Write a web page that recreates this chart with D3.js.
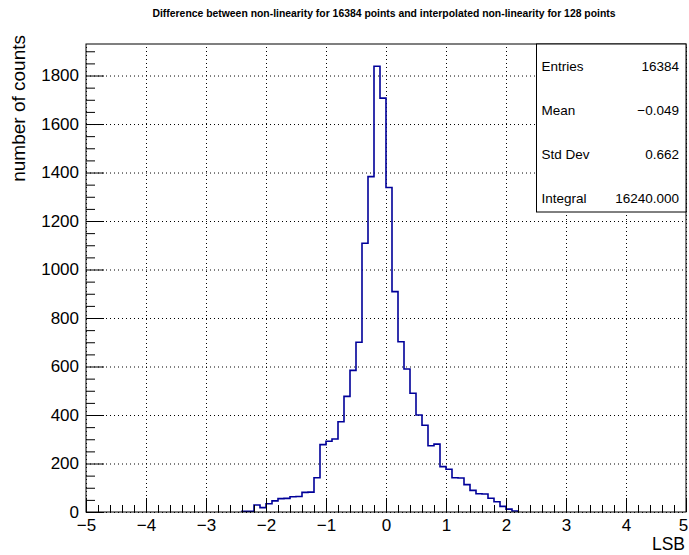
<!DOCTYPE html>
<html>
<head>
<meta charset="utf-8">
<script src="https://cdn.jsdelivr.net/npm/d3@7"></script>
<style>
  html, body { margin: 0; padding: 0; background: #fff; }
  svg { display: block; font-family: "Liberation Sans", Arial, Helvetica, sans-serif; }
</style>
</head>
<body>
<svg id="chart" width="689" height="555"></svg>
<script>
// Histogram contents: low edge of each 0.1-wide bin and its count
const binLowEdges = [
  -2.4, -2.3, -2.2, -2.1, -2.0, -1.9, -1.8, -1.7, -1.6, -1.5,
  -1.4, -1.3, -1.2, -1.1, -1.0, -0.9, -0.8, -0.7, -0.6, -0.5,
  -0.4, -0.3, -0.2, -0.1, 0.0, 0.1, 0.2, 0.3, 0.4, 0.5,
  0.6, 0.7, 0.8, 0.9, 1.0, 1.1, 1.2, 1.3, 1.4, 1.5,
  1.6, 1.7, 1.8, 1.9, 2.0, 2.1
];
const counts = [
  3, 3, 29, 18, 34, 46, 55, 56, 63, 64,
  81, 82, 141, 278, 292, 301, 372, 477, 584, 700,
  1108, 1383, 1838, 1707, 1338, 909, 702, 590, 490, 400,
  358, 273, 280, 187, 176, 141, 140, 113, 89, 75,
  74, 57, 42, 23, 12, 4
];
const binWidth = 0.1;

// Axis ticks and labels
const xTicks = [-5, -4, -3, -2, -1, 0, 1, 2, 3, 4, 5];
const yTicks = [0, 200, 400, 600, 800, 1000, 1200, 1400, 1600, 1800];
const xDomain = [-5, 5];
const yMax = 1930;

// Statistics box
const statNames = ["Entries", "Mean", "Std Dev", "Integral"];
const statValues = ["16384", "\u22120.049", "0.662", "16240.000"];

const titleText = "Difference between non-linearity for 16384 points and interpolated non-linearity for 128 points";
const xTitle = "LSB";
const yTitle = "number of counts";

const W = 689, H = 555;
const frame = { left: 86, right: 686, top: 44, bottom: 512 };

const svg = d3.select("#chart");
svg.append("rect").attr("width", W).attr("height", H).attr("fill", "#fff");

const x = d3.scaleLinear().domain(xDomain).range([frame.left, frame.right]);
const y = d3.scaleLinear().domain([0, yMax]).range([frame.bottom, frame.top]);

const fw = frame.right - frame.left, fh = frame.bottom - frame.top;

// Dotted grid at major ticks
const grid = svg.append("g").attr("class", "grid");
grid.append("g")
  .attr("transform", `translate(0,${frame.bottom})`)
  .call(d3.axisBottom(x).tickValues(xTicks).tickSize(-fh).tickFormat(""))
  .call(g => g.select(".domain").remove());
grid.append("g")
  .attr("transform", `translate(${frame.left},0)`)
  .call(d3.axisLeft(y).tickValues(yTicks).tickSize(-fw).tickFormat(""))
  .call(g => g.select(".domain").remove());
grid.selectAll("line")
  .attr("stroke", "#000")
  .attr("stroke-width", 1)
  .attr("stroke-dasharray", "1,3");

// Histogram outline as a step line
const pts = [[x(binLowEdges[0]), y(0)]];
binLowEdges.forEach((lo, i) => {
  pts.push([x(lo), y(counts[i])]);
  pts.push([x(lo + binWidth), y(counts[i])]);
});
pts.push([x(binLowEdges[binLowEdges.length - 1] + binWidth), y(0)]);
svg.append("path")
  .attr("d", d3.line()(pts))
  .attr("fill", "none")
  .attr("stroke", "#000099")
  .attr("stroke-width", 1.6)
  .attr("stroke-linejoin", "miter");

// Frame
svg.append("rect")
  .attr("x", frame.left).attr("y", frame.top)
  .attr("width", fw).attr("height", fh)
  .attr("fill", "none").attr("stroke", "#000").attr("stroke-width", 1);

// Minor ticks
const xMinor = d3.range(-5, 5.0001, 0.2).filter(v => Math.abs(v - Math.round(v)) > 1e-6);
const yMinor = d3.range(0, yMax, 50).filter(v => v % 200 !== 0);
svg.append("g")
  .attr("transform", `translate(0,${frame.bottom})`)
  .call(d3.axisBottom(x).tickValues(xMinor).tickSize(-7).tickFormat(""))
  .call(g => g.select(".domain").remove());
svg.append("g")
  .attr("transform", `translate(${frame.left},0)`)
  .call(d3.axisLeft(y).tickValues(yMinor).tickSize(-9).tickFormat(""))
  .call(g => g.select(".domain").remove());

// Major ticks with labels
const xAxis = svg.append("g")
  .attr("transform", `translate(0,${frame.bottom})`)
  .call(d3.axisBottom(x).tickValues(xTicks).tickSize(-14).tickPadding(7).tickFormat(d3.format("d")));
const yAxis = svg.append("g")
  .attr("transform", `translate(${frame.left},0)`)
  .call(d3.axisLeft(y).tickValues(yTicks).tickSize(-18).tickPadding(7).tickFormat(d3.format("d")));
[xAxis, yAxis].forEach(a => {
  a.select(".domain").remove();
  a.selectAll("text")
    .attr("fill", "#000")
    .style("font-size", "17px")
    .style("font-family", "'Liberation Sans', Arial, sans-serif");
});
// keep the last x label inside the page edge
xAxis.selectAll(".tick text").filter(d => d === xDomain[1]).attr("text-anchor", "end").attr("dx", "0.1em");
svg.selectAll(".tick line").attr("stroke", "#000");

// Axis titles
svg.append("text")
  .attr("x", frame.right - 1).attr("y", 550)
  .attr("text-anchor", "end")
  .style("font-size", "17.5px")
  .text(xTitle);
svg.append("text")
  .attr("transform", `translate(25,35) rotate(-90)`)
  .attr("text-anchor", "end")
  .style("font-size", "19px")
  .text(yTitle);

// Title
svg.append("text")
  .attr("x", 384).attr("y", 17)
  .attr("text-anchor", "middle")
  .style("font-size", "10.4px")
  .style("font-weight", "bold")
  .text(titleText);

// Statistics box
const box = { x0: 536.5, x1: frame.right, y0: frame.top, y1: 212 };
svg.append("rect")
  .attr("x", box.x0).attr("y", box.y0)
  .attr("width", box.x1 - box.x0).attr("height", box.y1 - box.y0)
  .attr("fill", "#fff").attr("stroke", "#000").attr("stroke-width", 1);
const rowStep = 44;
statNames.forEach((name, i) => {
  const cy = box.y0 + 22 + rowStep * i;
  svg.append("text")
    .attr("x", box.x0 + 5).attr("y", cy + 5)
    .style("font-size", "13.5px")
    .text(name);
  svg.append("text")
    .attr("x", box.x1 - 7).attr("y", cy + 5)
    .attr("text-anchor", "end")
    .style("font-size", "13.5px")
    .text(statValues[i]);
});
</script>
</body>
</html>
